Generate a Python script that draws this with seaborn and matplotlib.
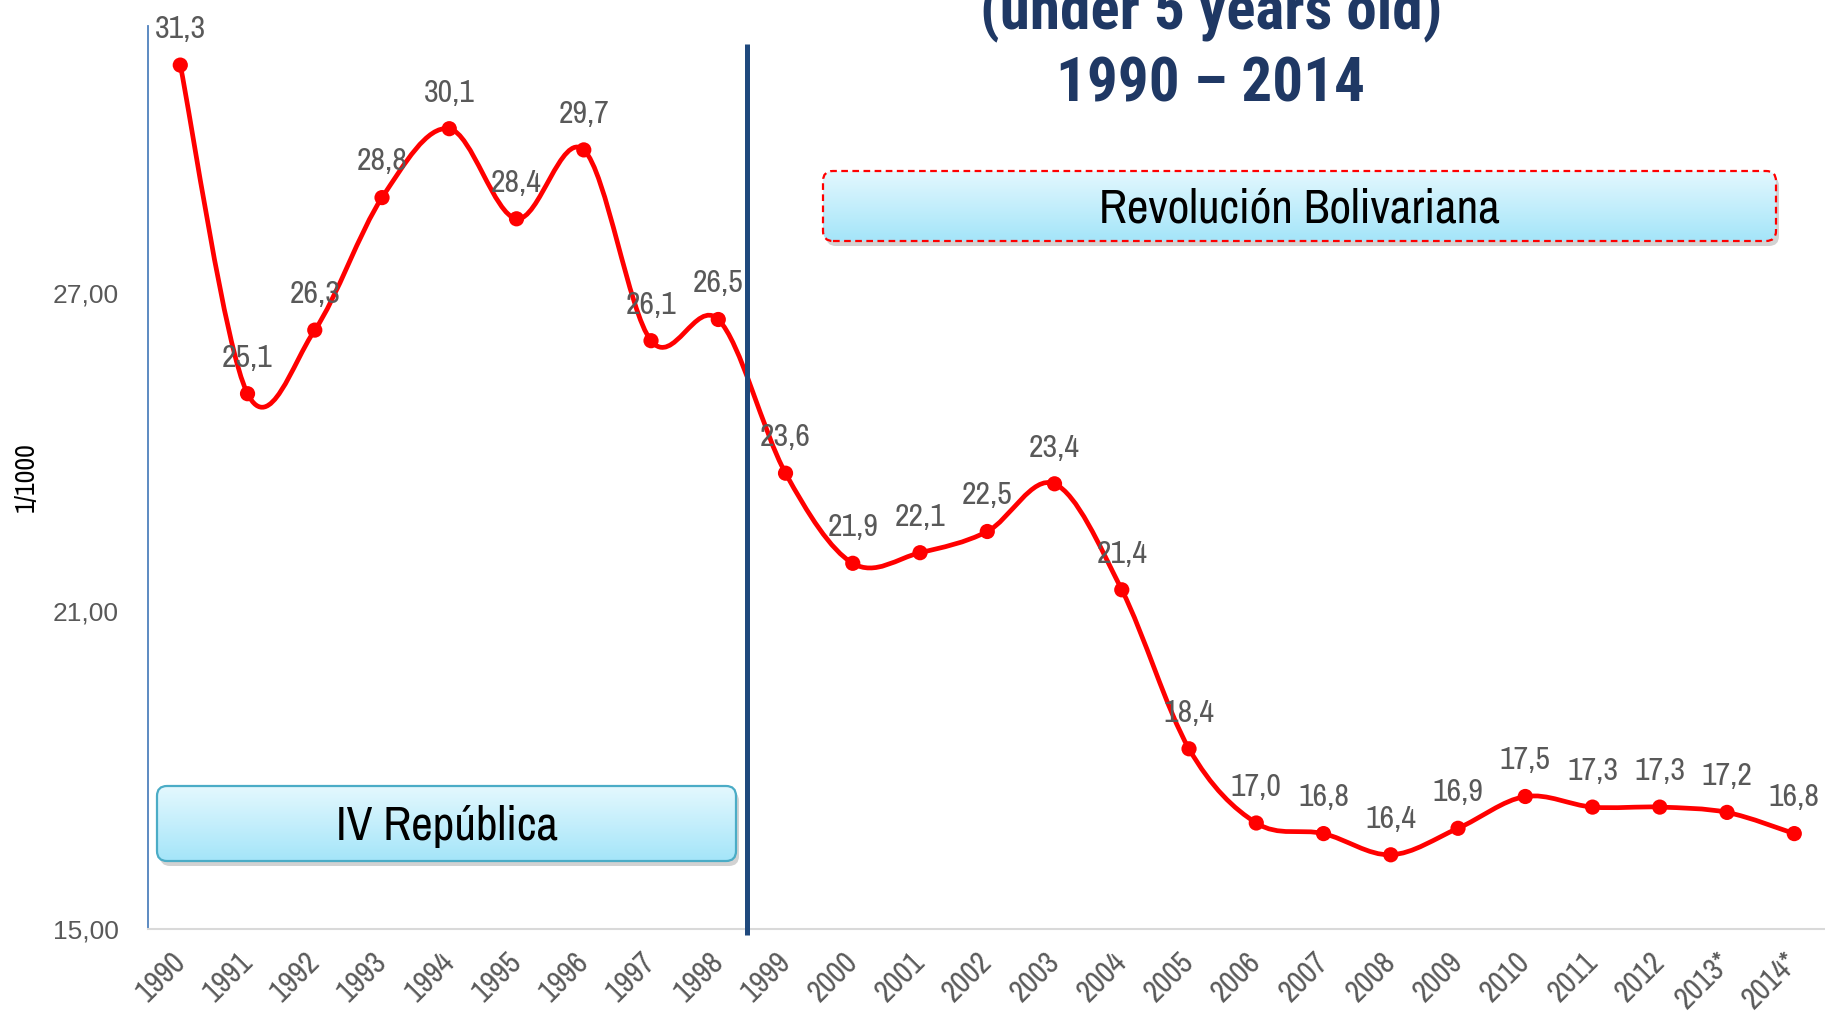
import numpy as np
import pandas as pd
import matplotlib
matplotlib.use('Agg')
import matplotlib.pyplot as plt
from matplotlib import font_manager as fm
from matplotlib.path import Path
from matplotlib.patches import PathPatch, FancyBboxPatch
from matplotlib.colors import LinearSegmentedColormap
import seaborn as sns

# data
years = ['1990', '1991', '1992', '1993', '1994', '1995', '1996', '1997', '1998',
         '1999', '2000', '2001', '2002', '2003', '2004', '2005', '2006', '2007',
         '2008', '2009', '2010', '2011', '2012', '2013*', '2014*']
rates = [31.3, 25.1, 26.3, 28.8, 30.1, 28.4, 29.7, 26.1, 26.5,
         23.6, 21.9, 22.1, 22.5, 23.4, 21.4, 18.4, 17.0, 16.8,
         16.4, 16.9, 17.5, 17.3, 17.3, 17.2, 16.8]
ytick_vals = [15, 21, 27]
title_lines = ['(under 5 years old)', '1990 \u2013 2014']
period_labels = ['IV República', 'Revolución Bolivariana']

W, H = 1825, 1017


def pick(cands):
    # first installed family from the list, DejaVu as glyph fallback
    avail = {f.name for f in fm.fontManager.ttflist}
    return [c for c in cands if c in avail][:1] + ['DejaVu Sans']


NARROW = pick(['Liberation Sans Narrow', 'Arial Narrow', 'Archivo Narrow',
               'Roboto Condensed', 'PT Sans Narrow'])
NARROW_BOLD = pick(['Liberation Sans Narrow', 'Arial Narrow', 'Roboto Condensed',
                    'Barlow Semi Condensed', 'Asap Condensed', 'Archivo Narrow'])

sns.set_theme(style='white')
plt.rcParams['font.family'] = ['Liberation Sans', 'DejaVu Sans']

df = pd.DataFrame({'pos': np.arange(len(years)), 'year': years, 'rate': rates})

fig = plt.figure(figsize=(W / 100, H / 100), dpi=100)
ax = fig.add_axes([148 / W, 1 - 929 / H, 1 - 148 / W, (929 - 26) / H])
ax.set_zorder(0)

# smooth line (catmull-rom as cubic bezier, like excel's smoothed line)
pts = df[['pos', 'rate']].to_numpy(dtype=float)
ext = np.vstack([pts[0], pts, pts[-1]])
verts = [pts[0]]
codes = [Path.MOVETO]
for i in range(len(pts) - 1):
    p0, p1, p2, p3 = ext[i], ext[i + 1], ext[i + 2], ext[i + 3]
    verts += [p1 + (p2 - p0) / 6, p2 - (p3 - p1) / 6, p2]
    codes += [Path.CURVE4] * 3
ax.add_patch(PathPatch(Path(verts, codes), fc='none', ec='#ff0000', lw=3.4,
                       capstyle='round', joinstyle='round', zorder=3))

sns.scatterplot(data=df, x='pos', y='rate', color='#ff0000', s=120,
                edgecolor='none', zorder=4, ax=ax, legend=False)

for _, r in df.iterrows():
    ax.annotate(f"{r['rate']:.1f}".replace('.', ','), (r['pos'], r['rate']),
                xytext=(0, 26), textcoords='offset points', ha='center',
                va='center', fontsize=23, color='#595959', family=NARROW)

# divider between periods
ax.plot([8.42, 8.42], [31.7, 14.89], color='#1f497d', lw=3.6, clip_on=False,
        solid_capstyle='butt', zorder=5)

ax.set_xlim(-0.48, -0.48 + 1677 / 67.25)
ax.set_ylim(15, 15 + 903 / 53)
ax.set_xticks(df['pos'])
ax.set_xticklabels(years, rotation=45, ha='right', va='center',
                   rotation_mode='anchor', fontsize=22, color='#595959',
                   family=NARROW)
ax.set_yticks(ytick_vals)
ax.set_yticklabels([f'{v:.2f}'.replace('.', ',') for v in ytick_vals],
                   fontsize=19, color='#595959')
ax.tick_params(axis='x', length=0, pad=20)
ax.tick_params(axis='y', direction='out', length=8, width=1.2,
               color='#4f81bd', pad=13)
ax.set_xlabel('')
ax.set_ylabel('')
for s in ['top', 'right']:
    ax.spines[s].set_visible(False)
ax.spines['left'].set_color('#4f81bd')
ax.spines['left'].set_linewidth(1.3)
ax.spines['bottom'].set_color('#d9d9d9')
ax.spines['bottom'].set_linewidth(1.5)

fig.text(26 / W, 1 - 477 / H, '1/1000', rotation=90, ha='center', va='center',
         fontsize=20, color='black', family=NARROW)

# title (top line is cut off by the canvas edge in the source)
fig.text(1211 / W, 1 - 29 / H, title_lines[0], ha='center', va='baseline',
         fontsize=44, fontweight='bold', color='#1f3864', family=NARROW_BOLD)
fig.text(1211 / W, 1 - 102 / H, title_lines[1], ha='center', va='baseline',
         fontsize=44, fontweight='bold', color='#1f3864', family=NARROW_BOLD)

grad_cmap = LinearSegmentedColormap.from_list('box', ['#a4e5f9', '#e4f8fe'])


def add_box(left, top, right, bottom, text, edge, ls):
    l, b = left / W, 1 - bottom / H
    w, h = (right - left) / W, (bottom - top) / H
    sh = FancyBboxPatch((l + 3 / W, b - 5 / H), w, h,
                        boxstyle=f'round,pad=0,rounding_size={10 / W}',
                        mutation_aspect=W / H, transform=fig.transFigure,
                        fc='#7f7f7f', ec='none', alpha=0.35, zorder=2)
    fig.patches.append(sh)
    bax = fig.add_axes([l, b, w, h])
    bax.set_zorder(3)
    bax.set_axis_off()
    im = bax.imshow(np.linspace(0, 1, 256).reshape(-1, 1), extent=[0, 1, 0, 1],
                    origin='lower', aspect='auto', cmap=grad_cmap)
    box = FancyBboxPatch((0, 0), 1, 1,
                         boxstyle=f'round,pad=0,rounding_size={10 / (w * W)}',
                         mutation_aspect=(w * W) / (h * H), transform=bax.transAxes,
                         fc='none', ec=edge, lw=1.6, ls=ls, clip_on=False)
    bax.add_patch(box)
    im.set_clip_path(box)
    bax.text(0.5, 0.46, text, ha='center', va='center', fontsize=34,
             color='black', family=NARROW, transform=bax.transAxes)


add_box(157, 786, 736, 861, period_labels[0], '#4bacc6', '-')
add_box(823, 171, 1776, 241, period_labels[1], '#ff0000', (0, (3, 2)))

fig.savefig('out.png', dpi=100)
